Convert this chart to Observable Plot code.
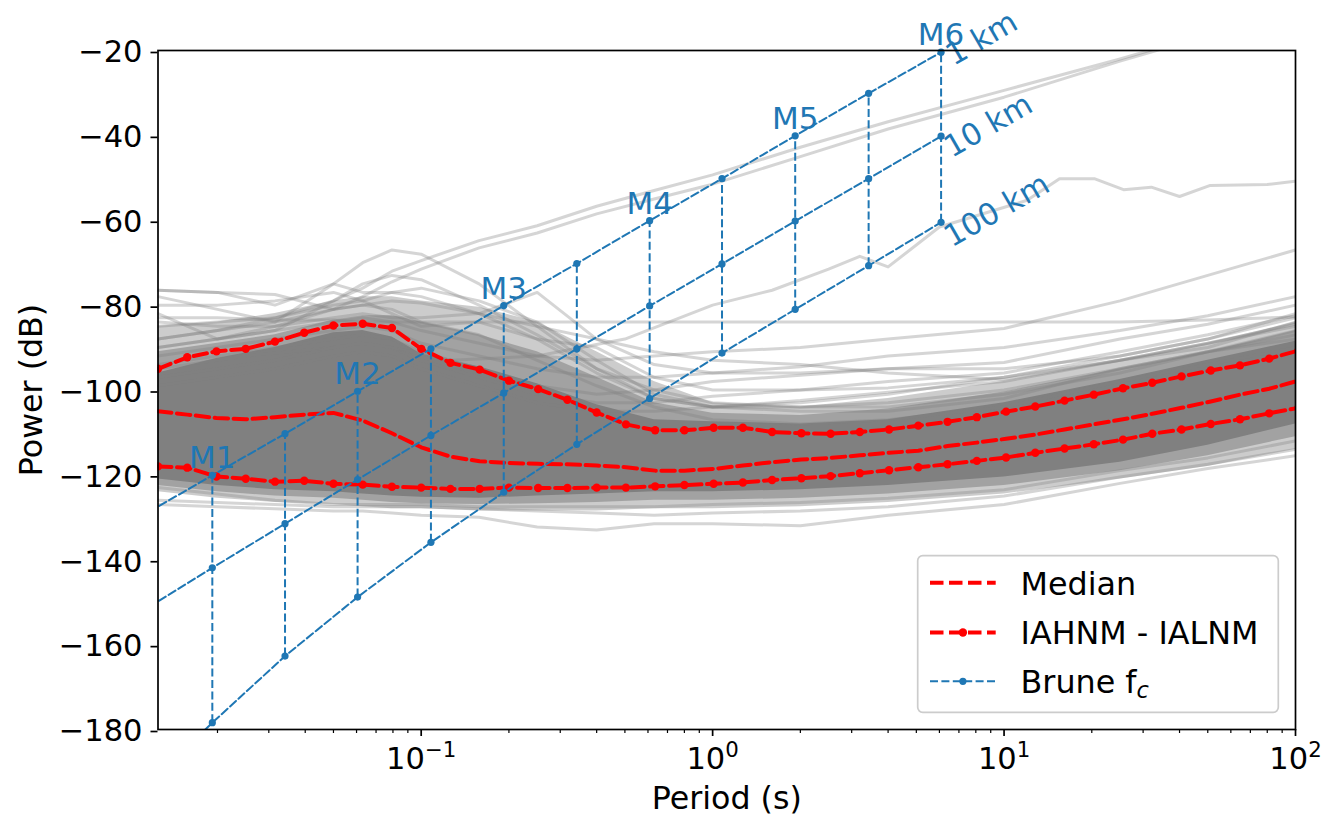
<!DOCTYPE html>
<html><head><meta charset="utf-8">
<script src="https://cdn.jsdelivr.net/npm/d3@7"></script>
<script src="https://cdn.jsdelivr.net/npm/@observablehq/plot@0.6"></script>
<style>
html,body{margin:0;padding:0;background:#fff;overflow:hidden;}
#wrap{position:relative;width:1341px;height:820px;}
</style></head><body><div id="wrap"></div>
<script>
// ---------- DATA ----------
// 1/3-octave periods of the noise-model curves (s)
const periods = [0.0125, 0.01575, 0.01984, 0.025, 0.0315, 0.03969, 0.05, 0.063, 0.07937, 0.1,
  0.126, 0.1587, 0.2, 0.252, 0.3175, 0.4, 0.504, 0.635, 0.8, 1.008,
  1.27, 1.6, 2.016, 2.54, 3.2, 4.032, 5.08, 6.4, 8.063, 10.16,
  12.8, 16.13, 20.32, 25.6, 32.25, 40.64, 51.2, 64.5, 81.27, 102.4];
const median = [-105.0, -105.8, -106.6, -106.9, -106.4, -105.8, -105.4, -107.2, -110.2, -113.5,
  -115.7, -116.8, -117.2, -117.4, -117.5, -117.8, -118.2, -119.0, -119.0, -118.6,
  -117.8, -117.0, -116.4, -116.0, -115.4, -114.8, -114.3, -113.2, -112.4, -111.5,
  -110.5, -109.3, -108.1, -106.9, -105.6, -104.2, -102.7, -101.1, -99.7, -97.8];
const iahnm = [-95.0, -92.3, -90.9, -90.3, -88.6, -86.5, -84.8, -84.4, -85.4, -90.3,
  -93.6, -95.2, -97.8, -99.8, -102.3, -105.3, -108.1, -109.5, -109.5, -108.9,
  -108.9, -109.9, -110.2, -110.3, -109.9, -109.3, -108.4, -107.5, -106.4, -105.1,
  -103.9, -102.5, -101.1, -99.6, -98.3, -96.8, -95.4, -94.2, -92.6, -90.7];
const ialnm = [-118.0, -118.3, -120.4, -120.9, -121.6, -121.4, -122.1, -122.3, -122.8, -123.0,
  -123.3, -123.3, -123.0, -123.1, -123.1, -123.0, -123.0, -122.7, -122.4, -122.1,
  -121.8, -121.2, -120.8, -120.3, -119.6, -118.9, -118.2, -117.5, -116.7, -115.9,
  -114.8, -113.8, -112.8, -111.7, -110.3, -109.3, -108.0, -106.9, -105.5, -104.2];

// Brune corner-frequency lines
const magnitudes = [0.5, 1, 1.5, 2, 2.5, 3, 3.5, 4, 4.5, 5, 5.5, 6];
const brunePeriods = [0.0108, 0.0192, 0.0341, 0.0605, 0.108, 0.192, 0.342, 0.608, 1.077, 1.92, 3.43, 6.08];
const brune1km = [-130, -120.1, -110.3, -100.3, -90.3, -80.1, -70.2, -60.1, -50.2, -40.1, -30.1, -20.4];
const brune10km = [-152.5, -141.9, -131.5, -121.1, -110.7, -100.7, -90.3, -80.2, -70.3, -60.2, -50.2, -40.2];
const brune100km = [-195, -178.4, -162.7, -148.8, -135.9, -124.1, -112.8, -102.0, -91.3, -81.0, -70.7, -60.5];
const distanceLabels = ["1 km", "10 km", "100 km"];

// individual station PSD curves (background)
const bandPeriods = [0.0125, 0.02, 0.0315, 0.05, 0.063, 0.0794, 0.1, 0.158, 0.25, 0.4, 0.63, 1, 2, 4, 10, 25, 50, 100];
const coreUpper = [-96, -92.5, -90, -86.5, -86, -87.5, -91.5, -94.5, -98.5, -103.5, -107, -107.5, -108, -107, -103, -97.5, -93, -88.5];
const coreLower = [-121, -122.5, -123.5, -124, -124.5, -125, -125.3, -125.5, -125, -124.5, -124, -124, -123.5, -122.5, -120.5, -117, -113, -108];
const denseUpper = [-91, -89, -87, -83.5, -82.5, -82.5, -84, -87, -91, -97, -103, -105.5, -106, -104.5, -100.5, -95, -91, -86];
const denseLower = [-122.5, -124, -125, -125.5, -126, -126.5, -126.8, -127, -126.8, -126.5, -126, -126, -125.5, -124.5, -122.5, -119, -115.5, -111];
const midUpper = [-85, -84, -82, -79, -78, -78, -79, -80.5, -84, -91, -98, -103, -104, -102, -98, -93, -89, -84];
const midLower = [-124, -125.5, -126.5, -127, -127.5, -128, -128, -128.5, -128.5, -128.5, -128, -128, -127.5, -126.5, -124.5, -121, -118, -114];
const stationA = [-88, -86, -83, -79, -76, -72, -69.5, -64.8, -61.3, -56.7, -53, -49.3, -42.8, -36.8, -29.4, -22, -16, -10];
const stationB = [-90, -88, -85, -81, -78, -74.5, -71.5, -66.5, -63, -58.5, -55, -51.5, -45, -38.5, -31, -22.5, -16.5, -10.5];
const stationE = [-83, -83, -83.5, -83.5, -84, -84, -84, -84, -84, -84, -84, -84, -84, -84, -84, -84, -83.5, -82.8];
const stationF = [-90, -88, -86, -84, -83, -84, -86, -89, -92, -93, -92, -91, -90, -88, -85.5, -79, -73, -67];
const stationG = [-92, -90, -88, -86, -85, -86, -89, -92, -95, -97, -97, -96, -94.5, -92, -90, -86, -82.5, -78];
const stationH = [-94, -92, -90, -88, -87, -88, -91, -95, -99, -101, -100, -98, -96.5, -95, -93.5, -88, -84.5, -80];
const stationI = [-97, -95, -93, -90, -89, -90, -93, -97, -101, -103, -103, -101.5, -100, -98, -96, -91, -87, -82.5];
const stationJ = [-99, -97, -95, -92, -91, -92, -95, -99, -103, -105, -105, -104, -102.5, -100.5, -98, -93, -89, -84.5];
const stationK = [-127, -127.5, -128, -128.5, -128.5, -129, -129.5, -130, -132.3, -133, -131.5, -131.5, -132, -129.5, -127, -122, -118.5, -115.5];
const stationL = [-126, -126.5, -127, -127.5, -127.5, -127.5, -127.5, -128, -128.5, -129, -129.5, -129, -128.5, -127.5, -125, -120.5, -117.5, -114];
const stationM = [-76.5, -77, -77.5, -81, -80, -81, -84, -87, -93, -99, -104, -107, -108, -107, -104, -98, -94, -90];
const stationN = [-78, -81, -84, -75, -77, -77, -78, -82, -88, -96, -102, -104, -105, -105, -102, -95, -91, -88];
const stationO = [-82, -88, -86, -79, -75, -73, -74, -80, -87, -95, -100, -103, -104, -104, -101, -96, -91, -87];
const stationP = [-84, -85, -85, -83, -82, -83, -83, -82, -77, -88, -94, -96, -96, -95, -95, -92, -88, -83];
const stationQ = [-88, -86, -84, -81, -80, -79, -79.5, -82, -85, -88, -91, -93, -94, -96, -97.5, -93, -89, -85];
const stationR = [-76.5, -77, -80, -75, -70, -67, -68, -75, -85, -95, -102, -104, -104, -103, -100, -95, -91, -86];
const stationU = [-85, -84, -83, -80, -79, -77, -76, -79, -84, -93, -101, -104, -103, -101, -97, -92, -88, -82];
const stationV = [-80, -80, -79, -77, -79, -82, -85, -84, -88, -90, -97, -100, -100, -99.5, -97, -93, -90, -84];
const stationW = [-123, -124.5, -126, -127, -127, -127, -127, -127.5, -127.5, -127.5, -127.5, -127, -126.5, -125.5, -123.5, -119, -116, -112];
const stationDPeriods = [0.0125, 0.025, 0.05, 0.079, 0.126, 0.25, 0.5, 1.0, 1.6, 2.5, 3.2, 4.0, 6.0, 12, 15.5, 20.4, 25.7, 32, 40, 51, 80, 100];
const stationD = [-95, -92, -90, -90, -93, -92, -88, -80, -76.5, -71.5, -68.5, -71, -61.6, -55.3, -50.2, -50.2, -52.8, -52.2, -54.4, -51.8, -51.6, -50.8];

const yTicks = [-180, -160, -140, -120, -100, -80, -60, -40, -20];
const xTicks = [0.1, 1, 10, 100];
const xMinorTicks = [0.02,0.03,0.04,0.05,0.06,0.07,0.08,0.09,0.2,0.3,0.4,0.5,0.6,0.7,0.8,0.9,2,3,4,5,6,7,8,9,20,30,40,50,60,70,80,90];
const legendLabels = ["Median", "IAHNM - IALNM", "Brune f"];

// ---------- BUILD ----------
const FONT = "'DejaVu Sans', sans-serif";
const BLUE = "#1f77b4";
const stations = {A: stationA, B: stationB, E: stationE, F: stationF, G: stationG, H: stationH, I: stationI, J: stationJ,
  K: stationK, L: stationL, M: stationM, N: stationN, O: stationO, P: stationP, Q: stationQ, R: stationR, U: stationU, V: stationV, W: stationW};
const stationRows = Object.entries(stations).flatMap(([id, vals]) => bandPeriods.map((p, i) => ({id, p, v: vals[i]})))
  .concat(stationDPeriods.map((p, i) => ({id: "D", p, v: stationD[i]})));
const bandRows = bandPeriods.map((p, i) => ({p, cu: coreUpper[i], cl: coreLower[i], du: denseUpper[i], dl: denseLower[i], mu: midUpper[i], ml: midLower[i]}));
const curveRows = periods.map((p, i) => ({p, med: median[i], hi: iahnm[i], lo: ialnm[i]}));
const distSeries = [brune1km, brune10km, brune100km];
const bruneRows = distSeries.flatMap((vals, j) => magnitudes.map((m, i) => ({dist: distanceLabels[j], m, p: brunePeriods[i], v: vals[i]})));
const bruneDots = bruneRows.filter(d => d.m >= 1);
const bruneVert = magnitudes.map((m, i) => ({m, p: brunePeriods[i], top: brune1km[i], bot: brune100km[i]})).filter(d => d.m >= 1);
const magLabelRows = bruneVert.filter(d => Number.isInteger(d.m));
const last = magnitudes.length - 1;
const distLabelRows = distSeries.map((vals, j) => ({label: distanceLabels[j], p: brunePeriods[last], v: vals[last]}));
const distOffsets = [[12.4, 14], [10.7, 22], [10.7, 25.5]];

const redDash = "13.5,5.5", blueDash = "8,3.4";

const chart = Plot.plot({
  width: 1341, height: 820,
  marginLeft: 157.5, marginRight: 46, marginTop: 50, marginBottom: 91,
  style: {fontFamily: FONT, fontSize: "30.5px", color: "black", background: "white", overflow: "visible"},
  x: {type: "log", domain: [0.0125, 100], label: null},
  y: {domain: [-180, -20], label: null},
  marks: [
    Plot.areaY(bandRows, {x: "p", y1: "ml", y2: "mu", fill: "#808080", fillOpacity: 0.4, clip: true}),
    Plot.areaY(bandRows, {x: "p", y1: "dl", y2: "du", fill: "#808080", fillOpacity: 0.55, clip: true}),
    Plot.areaY(bandRows, {x: "p", y1: "cl", y2: "cu", fill: "#808080", clip: true}),
    Plot.line(stationRows, {x: "p", y: "v", z: "id", stroke: "#808080", strokeOpacity: 0.33, strokeWidth: 3, clip: true}),
    Plot.line(curveRows, {x: "p", y: "med", stroke: "red", strokeWidth: 4, strokeDasharray: redDash, clip: true}),
    Plot.line(curveRows, {x: "p", y: "hi", stroke: "red", strokeWidth: 4, strokeDasharray: redDash, clip: true}),
    Plot.line(curveRows, {x: "p", y: "lo", stroke: "red", strokeWidth: 4, strokeDasharray: redDash, clip: true}),
    Plot.dot(curveRows, {x: "p", y: "hi", r: 4.2, fill: "red", clip: true}),
    Plot.dot(curveRows, {x: "p", y: "lo", r: 4.2, fill: "red", clip: true}),
    Plot.line(bruneRows, {x: "p", y: "v", z: "dist", stroke: BLUE, strokeWidth: 2, strokeDasharray: blueDash, clip: true}),
    Plot.ruleX(bruneVert, {x: "p", y1: "bot", y2: "top", stroke: BLUE, strokeWidth: 2, strokeDasharray: blueDash}),
    Plot.dot(bruneDots, {x: "p", y: "v", r: 3.6, fill: BLUE}),
    Plot.text(magLabelRows, {x: "p", y: "top", text: d => "M" + d.m, fill: BLUE, fontSize: 31, lineAnchor: "bottom", dy: -7}),
    ...distLabelRows.map((row, j) => Plot.text([row], {x: "p", y: "v", text: "label", fill: BLUE, fontSize: 30.5,
      textAnchor: "start", lineAnchor: "bottom", rotate: -30, dx: distOffsets[j][0], dy: distOffsets[j][1]})),
    Plot.frame({stroke: "black", strokeWidth: 1.7}),
    Plot.axisY({ticks: yTicks, tickSize: 7, tickPadding: 8.5, strokeWidth: 1.7, label: null, dy: 2,
      tickFormat: d => d3.format("d")(d)}),
    Plot.axisX({ticks: xTicks, tickSize: 7, tickPadding: 10.6, strokeWidth: 1.7, label: null,
      tickFormat: d => "10^" + Math.round(Math.log10(d))}),
    Plot.axisX({ticks: xMinorTicks, tickSize: 4, strokeWidth: 1.2, label: null, tickFormat: () => ""}),
    Plot.text(["Power (dB)"], {text: d => d, frameAnchor: "left", rotate: -90, dx: -115.8, fontSize: 31.7,
      textAnchor: "middle", lineAnchor: "bottom"}),
    Plot.text(["Period (s)"], {text: d => d, frameAnchor: "bottom", dy: 79.5, fontSize: 31.7,
      textAnchor: "middle", lineAnchor: "bottom"})
  ]
});

const wrap = document.getElementById("wrap");
wrap.appendChild(chart);

// superscript exponents on the log-axis tick labels
const svgns = "http://www.w3.org/2000/svg";
chart.querySelectorAll("text").forEach(t => {
  const m = /^10\^(-?\d+)$/.exec(t.textContent);
  if (!m) return;
  t.textContent = "10";
  const ts = document.createElementNS(svgns, "tspan");
  ts.setAttribute("dy", "-11.6");
  ts.setAttribute("font-size", "21.3px");
  ts.textContent = m[1].replace("-", "\u2212");
  t.appendChild(ts);
});

// legend (matplotlib-style box, lower right)
const leg = d3.select(wrap).append("svg")
  .attr("width", 1341).attr("height", 820)
  .style("position", "absolute").style("left", "0").style("top", "0")
  .style("font-family", FONT);
leg.append("rect").attr("x", 917.7).attr("y", 555.7).attr("width", 360.6).attr("height", 156.6).attr("rx", 5)
  .attr("fill", "white").attr("fill-opacity", 0.8).attr("stroke", "#cccccc").attr("stroke-width", 1.7);
const legendStyle = [
  {color: "red", dash: redDash, w: 4, r: 0, cy: 582.7, base: 595},
  {color: "red", dash: redDash, w: 4, r: 4.2, cy: 632.5, base: 644},
  {color: BLUE, dash: blueDash, w: 2, r: 3.6, cy: 681.3, base: 692.7}
];
legendLabels.forEach((label, i) => {
  const s = legendStyle[i];
  leg.append("line").attr("x1", 930).attr("x2", 995.7).attr("y1", s.cy).attr("y2", s.cy)
    .attr("stroke", s.color).attr("stroke-width", s.w).attr("stroke-dasharray", s.dash);
  if (s.r) leg.append("circle").attr("cx", 962.9).attr("cy", s.cy).attr("r", s.r).attr("fill", s.color);
  const t = leg.append("text").attr("x", 1020.5).attr("y", s.base).attr("font-size", 31.8).attr("fill", "black").text(label);
  if (i === 2) t.append("tspan").attr("dy", 5).attr("font-size", 22.5).attr("font-style", "italic").text("c");
});
</script>
</body></html>
